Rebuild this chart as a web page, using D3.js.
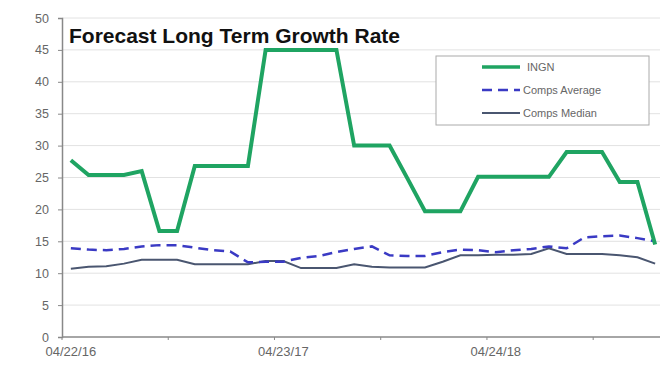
<!DOCTYPE html>
<html>
<head>
  <meta charset="utf-8">
  <script src="https://cdn.jsdelivr.net/npm/d3@7"></script>
  <style>
    body { margin: 0; background: #fff; }
    text { font-family: Arial, "Liberation Sans", sans-serif; }
  </style>
</head>
<body>
  <svg id="chart" width="663" height="365"></svg>
  <script>
    // monthly dates (category axis)
    var dates = [
      "04/22/16","05/22/16","06/22/16","07/22/16","08/22/16","09/22/16",
      "10/22/16","11/22/16","12/22/16","01/22/17","02/22/17","03/22/17",
      "04/23/17","05/23/17","06/23/17","07/23/17","08/23/17","09/23/17",
      "10/23/17","11/23/17","12/23/17","01/23/18","02/23/18","03/23/18",
      "04/24/18","05/24/18","06/24/18","07/24/18","08/24/18","09/24/18",
      "10/24/18","11/24/18","12/24/18","01/24/19"
    ];
    var labelDates = ["04/22/16", "04/23/17", "04/24/18"];

    var ingn = [27.7, 25.4, 25.4, 25.4, 26.0, 16.6, 16.6, 26.8, 26.8, 26.8, 26.8, 45,
                45, 45, 45, 45, 30, 30, 30, 24.9, 19.7, 19.7, 19.7, 25.1,
                25.1, 25.1, 25.1, 25.1, 29, 29, 29, 24.3, 24.3, 14.5];
    var compsAvg = [13.9, 13.7, 13.6, 13.8, 14.2, 14.4, 14.4, 14.0, 13.6, 13.4, 11.7, 11.8,
                    11.8, 12.4, 12.7, 13.3, 13.8, 14.2, 12.8, 12.7, 12.7, 13.3, 13.7, 13.6,
                    13.3, 13.6, 13.8, 14.2, 13.9, 15.6, 15.8, 15.9, 15.5, 15.0];
    var compsMed = [10.7, 11.0, 11.1, 11.5, 12.1, 12.1, 12.1, 11.4, 11.4, 11.4, 11.4, 11.9,
                    11.9, 10.8, 10.8, 10.8, 11.4, 11.0, 10.9, 10.9, 10.9, 11.8, 12.8, 12.8,
                    12.9, 12.9, 13.0, 13.9, 13.0, 13.0, 13.0, 12.8, 12.5, 11.5];
    var yTicks = [0, 5, 10, 15, 20, 25, 30, 35, 40, 45, 50];

    var series = [
      { name: "INGN", values: ingn, color: "#1fa462", width: 4, dash: null },
      { name: "Comps Average", values: compsAvg, color: "#3a3ac4", width: 2.5, dash: "10,6" },
      { name: "Comps Median", values: compsMed, color: "#4a5670", width: 2, dash: null }
    ];

    var svg = d3.select("#chart");
    var plotL = 62, plotR = 664, plotT = 18, plotB = 337;

    var x = d3.scaleBand().domain(dates).range([plotL, plotR]);
    var y = d3.scaleLinear().domain([0, 50]).range([plotB, plotT]);

    // grid lines
    svg.append("g").selectAll("line")
      .data(yTicks.slice(1))
      .enter().append("line")
      .attr("x1", plotL).attr("x2", 660)
      .attr("y1", function(d) { return y(d); })
      .attr("y2", function(d) { return y(d); })
      .attr("stroke", "#e2e2e2").attr("stroke-width", 1);

    // y axis
    var yAxis = svg.append("g")
      .attr("transform", "translate(" + plotL + ",0)")
      .call(d3.axisLeft(y).tickValues(yTicks).tickSize(4).tickPadding(9));
    yAxis.select(".domain").attr("stroke", "#888").attr("stroke-width", 1.5);
    yAxis.selectAll(".tick line").attr("stroke", "#888");
    yAxis.selectAll("text").attr("fill", "#666").attr("font-size", 12.5)
      .attr("font-family", "Arial, 'Liberation Sans', sans-serif");

    // x axis: tick marks every 6 categories, labels every 12
    var xg = svg.append("g");
    xg.append("line")
      .attr("x1", plotL).attr("x2", 660)
      .attr("y1", plotB).attr("y2", plotB)
      .attr("stroke", "#888").attr("stroke-width", 1.5);
    var tickIdx = d3.range(0, dates.length, 6);
    xg.selectAll(".xt").data(tickIdx).enter().append("line")
      .attr("x1", function(i) { return x(dates[i]); })
      .attr("x2", function(i) { return x(dates[i]); })
      .attr("y1", plotB).attr("y2", plotB + 3)
      .attr("stroke", "#888");
    xg.selectAll(".xl").data(labelDates).enter().append("text")
      .attr("x", function(d) { return x(d) + x.bandwidth() / 2; })
      .attr("y", plotB + 19)
      .attr("text-anchor", "middle")
      .attr("fill", "#666").attr("font-size", 13)
      .text(function(d) { return d; });

    // lines
    var line = d3.line()
      .x(function(d, i) { return x(dates[i]) + x.bandwidth() / 2; })
      .y(function(d) { return y(d); });

    series.slice().reverse().forEach(function(s) {
      svg.append("path")
        .datum(s.values)
        .attr("d", line)
        .attr("fill", "none")
        .attr("stroke", s.color)
        .attr("stroke-width", s.width)
        .attr("stroke-linejoin", "miter")
        .attr("stroke-dasharray", s.dash);
    });

    // title
    svg.append("text")
      .attr("x", 69).attr("y", 43)
      .attr("font-size", 21).attr("font-weight", "bold")
      .attr("fill", "#111")
      .text("Forecast Long Term Growth Rate");

    // legend
    var lg = svg.append("g");
    lg.append("rect")
      .attr("x", 436).attr("y", 56).attr("width", 213).attr("height", 69)
      .attr("fill", "#fff").attr("stroke", "#aaa").attr("stroke-width", 1);
    series.forEach(function(s, i) {
      var ly = 67 + i * 23;
      lg.append("line")
        .attr("x1", 482).attr("x2", 520)
        .attr("y1", ly).attr("y2", ly)
        .attr("stroke", s.color)
        .attr("stroke-width", s.width === 4 ? 3.5 : s.width)
        .attr("stroke-dasharray", s.dash ? "10,6" : null);
      lg.append("text")
        .attr("x", i === 0 ? 527 : 523).attr("y", ly + 4)
        .attr("font-size", 11).attr("fill", "#666")
        .text(s.name);
    });
  </script>
</body>
</html>
